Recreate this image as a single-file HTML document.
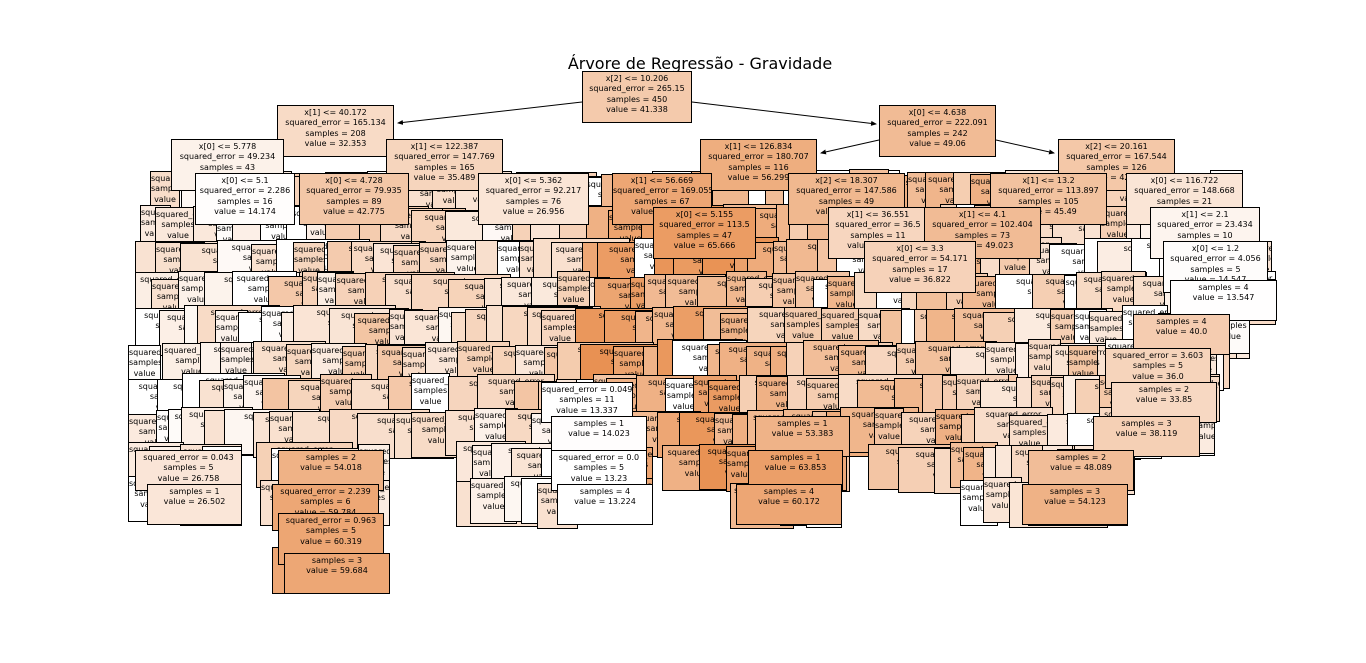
<!DOCTYPE html>
<html><head><meta charset="utf-8">
<style>
html,body{margin:0;padding:0;background:#fff;width:1366px;height:663px;overflow:hidden;position:relative;font-family:"DejaVu Sans","Liberation Sans",sans-serif;}
.b{position:absolute;border:1.3px solid #000;box-sizing:border-box;font-size:8px;line-height:10.4px;text-align:center;white-space:nowrap;overflow:hidden;padding-top:2px;color:#000;}
#t{position:absolute;left:0;width:1400px;top:54px;text-align:center;font-size:16px;}
svg{position:absolute;left:0;top:0;}
</style></head><body>
<div id="t">Árvore de Regressão - Gravidade</div>
<div id="c"></div>
<svg width="1366" height="663"><defs><marker id="a" markerWidth="6" markerHeight="6" refX="5" refY="3" orient="auto"><path d="M0,0.5 L6,3 L0,5.5z" fill="#000"/></marker></defs>
<g stroke="#000" stroke-width="1" marker-end="url(#a)">
<line x1="582" y1="102" x2="398" y2="123"/><line x1="692" y1="102" x2="876" y2="124"/>
<line x1="879" y1="140" x2="821" y2="153"/><line x1="996" y1="140" x2="1054" y2="153"/>
</g></svg>
<script>
var c=document.getElementById('c');
function col(a){a=Math.max(0,Math.min(1,a));var r=Math.round(255-a*(255-229)),g=Math.round(255-a*(255-129)),b=Math.round(255-a*(255-57));return 'rgb('+r+','+g+','+b+')';}
function box(x,y,w,h,a,txt){var d=document.createElement('div');d.className='b';d.style.left=x+'px';d.style.top=y+'px';d.style.width=w+'px';d.style.height=h+'px';d.style.background=col(a);d.innerHTML=txt||'';c.appendChild(d);}
function vv(v){return (v-13.2)/(80-13.2);}
var s=7;function rnd(){s=(s*16807)%2147483647;return s/2147483647;}
function base(x){if(x<300)return 0.12;if(x<460)return 0.3;if(x<560)return 0.2;if(x<620)return 0.35;if(x<770)return 0.7;if(x<860)return 0.5;if(x<1000)return 0.45;if(x<1130)return 0.3;return 0.15;}
var rows=[[173,[[150,1243]]],[207,[[140,1262]]],[241,[[135,1272]]],[275,[[135,1276]]],[309,[[135,1250]]],[343,[[128,1230]]],[377,[[128,1220]]],[411,[[128,1215]]],[445,[[128,242],[256,390],[456,653],[662,850],[868,1135]]],[479,[[128,242],[260,390],[456,653],[730,842],[960,1128]]]];
var tx='squared_error<br>samples<br>value';
rows.forEach(function(r){r[1].forEach(function(g){var x=g[0];while(x<g[1]-20){var w=Math.min(30+rnd()*80,g[1]-x);var a=base(x+w/2)+(rnd()-0.5)*0.35;if(rnd()<0.08)a=0;box(Math.round(x),r[0]+Math.round((rnd()-0.5)*8),Math.round(w),46,a,tx);x+=12+rnd()*26;}});});
var N=[
[582,71,110,52,41.338,'x[2] &lt;= 10.206<br>squared_error = 265.15<br>samples = 450<br>value = 41.338'],
[277,105,117,52,32.353,'x[1] &lt;= 40.172<br>squared_error = 165.134<br>samples = 208<br>value = 32.353'],
[879,105,117,52,49.06,'x[0] &lt;= 4.638<br>squared_error = 222.091<br>samples = 242<br>value = 49.06'],
[171,139,113,52,20.32,'x[0] &lt;= 5.778<br>squared_error = 49.234<br>samples = 43<br>value = 20.32'],
[386,139,117,52,35.489,'x[1] &lt;= 122.387<br>squared_error = 147.769<br>samples = 165<br>value = 35.489'],
[700,139,117,52,56.299,'x[1] &lt;= 126.834<br>squared_error = 180.707<br>samples = 116<br>value = 56.299'],
[1058,139,117,52,42.396,'x[2] &lt;= 20.161<br>squared_error = 167.544<br>samples = 126<br>value = 42.396'],
[195,173,100,52,14.174,'x[0] &lt;= 5.1<br>squared_error = 2.286<br>samples = 16<br>value = 14.174'],
[299,173,110,52,42.775,'x[0] &lt;= 4.728<br>squared_error = 79.935<br>samples = 89<br>value = 42.775'],
[478,173,111,52,26.956,'x[0] &lt;= 5.362<br>squared_error = 92.217<br>samples = 76<br>value = 26.956'],
[612,173,100,52,60.192,'x[1] &lt;= 56.669<br>squared_error = 169.055<br>samples = 67<br>value = 60.192'],
[788,173,117,52,50.976,'x[2] &lt;= 18.307<br>squared_error = 147.586<br>samples = 49<br>value = 50.976'],
[990,173,117,52,45.49,'x[1] &lt;= 13.2<br>squared_error = 113.897<br>samples = 105<br>value = 45.49'],
[1126,173,117,52,26.928,'x[0] &lt;= 116.722<br>squared_error = 148.668<br>samples = 21<br>value = 26.928'],
[653,207,103,52,65.666,'x[0] &lt;= 5.155<br>squared_error = 113.5<br>samples = 47<br>value = 65.666'],
[828,207,100,52,34.855,'x[1] &lt;= 36.551<br>squared_error = 36.5<br>samples = 11<br>value = 34.855'],
[924,207,117,52,49.023,'x[1] &lt;= 4.1<br>squared_error = 102.404<br>samples = 73<br>value = 49.023'],
[1150,207,110,52,19.004,'x[1] &lt;= 2.1<br>squared_error = 23.434<br>samples = 10<br>value = 19.004'],
[864,241,112,52,36.822,'x[0] &lt;= 3.3<br>squared_error = 54.171<br>samples = 17<br>value = 36.822'],
[1163,241,105,52,14.547,'x[0] &lt;= 1.2<br>squared_error = 4.056<br>samples = 5<br>value = 14.547'],
[1170,280,107,41,13.547,'samples = 4<br>value = 13.547'],
[1133,314,97,41,40.0,'samples = 4<br>value = 40.0'],
[1105,348,106,41,36.0,'squared_error = 3.603<br>samples = 5<br>value = 36.0'],
[1111,382,106,41,33.85,'samples = 2<br>value = 33.85'],
[541,382,92,41,13.337,'squared_error = 0.049<br>samples = 11<br>value = 13.337'],
[551,416,96,41,14.023,'samples = 1<br>value = 14.023'],
[755,416,95,41,53.383,'samples = 1<br>value = 53.383'],
[1093,416,107,41,38.119,'samples = 3<br>value = 38.119'],
[135,450,107,41,26.758,'squared_error = 0.043<br>samples = 5<br>value = 26.758'],
[278,450,106,41,54.018,'samples = 2<br>value = 54.018'],
[551,450,96,41,13.23,'squared_error = 0.0<br>samples = 5<br>value = 13.23'],
[748,450,95,41,63.853,'samples = 1<br>value = 63.853'],
[1028,450,106,41,48.089,'samples = 2<br>value = 48.089'],
[147,484,95,41,26.502,'samples = 1<br>value = 26.502'],
[272,484,107,47,59.784,'squared_error = 2.239<br>samples = 6<br>value = 59.784'],
[557,484,96,41,13.224,'samples = 4<br>value = 13.224'],
[736,484,106,41,60.172,'samples = 4<br>value = 60.172'],
[1022,484,106,41,54.123,'samples = 3<br>value = 54.123'],
[278,513,106,52,60.319,'squared_error = 0.963<br>samples = 5<br>value = 60.319'],
[284,553,106,41,59.684,'samples = 3<br>value = 59.684']
];
box(272,547,20,47,vv(59.6),'');
N.forEach(function(n){box(n[0],n[1],n[2],n[3],vv(n[4]),n[5]);});
</script>
</body></html>
